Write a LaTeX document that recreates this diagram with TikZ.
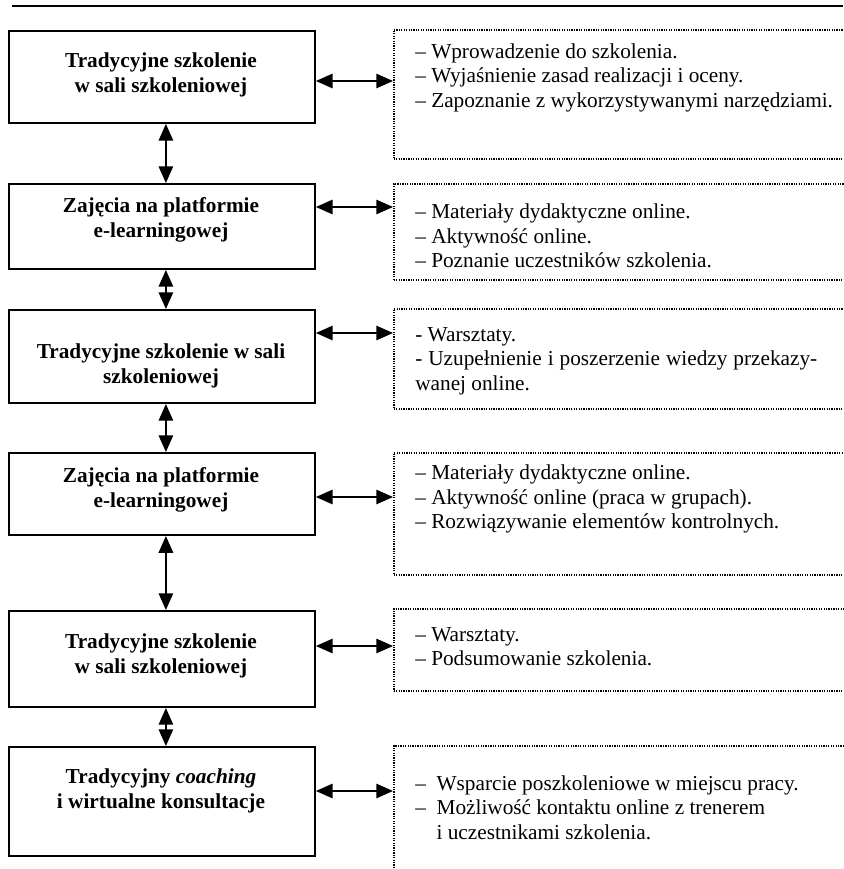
\documentclass[tikz,border=0pt]{standalone}
\usepackage{fontspec}
\setmainfont{Liberation Serif}
\usepackage{tikz}
\usetikzlibrary{arrows.meta}
\usetikzlibrary{positioning}

\begin{document}
\begin{tikzpicture}[x=0.658pt, y=-0.658pt]
\tikzstyle{box} = [draw, line width=1.3pt, minimum width=201.3pt, anchor=north west, inner sep=0pt]
\tikzstyle{note} = [draw, line width=1pt, dash pattern=on 0.8pt off 0.8pt, minimum width=314pt, anchor=north west, inner sep=0pt]
\tikzstyle{boxtext} = [font=\fontsize{14}{16.5}\selectfont\bfseries, align=center, inner sep=0pt]
\tikzstyle{notetext} = [font=\fontsize{14}{16.1}\selectfont, align=left, anchor=west, inner sep=0pt]
\tikzstyle{arr} = [line width=1pt, {Triangle[length=11pt,width=9.5pt]}-{Triangle[length=11pt,width=9.5pt]}]

\useasboundingbox (0,0) rectangle (843,869);
\fill[white] (0,0) rectangle (843,869);
\draw[line width=0.7pt] (12,6) -- (843,6);

% left column
\node[box, minimum height=60.5pt] (b1) at (8,30) {};
\node[box, minimum height=55.9pt] (b2) at (8,183) {};
\node[box, minimum height=61.2pt] (b3) at (8,309) {};
\node[box, minimum height=54.0pt] (b4) at (8,452) {};
\node[box, minimum height=63.2pt] (b5) at (8,610) {};
\node[box, minimum height=71.7pt] (b6) at (8,746) {};

\node[boxtext] (bt1) at (161,74.5) {Tradycyjne szkolenie\\ w sali szkoleniowej};
\node[boxtext] (bt2) at (161,220) {Zajęcia na platformie\\ e-learningowej};
\node[boxtext] (bt3) at (161,366) {Tradycyjne szkolenie w sali\\ szkoleniowej};
\node[boxtext] (bt4) at (161,490) {Zajęcia na platformie\\ e-learningowej};
\node[boxtext] (bt5) at (161,656) {Tradycyjne szkolenie\\ w sali szkoleniowej};
\node[boxtext] (bt6) at (161,791) {Tradycyjny \textit{coaching}\\ i wirtualne konsultacje};

% right column
\node[note, minimum height=84.9pt] (d1) at (393,29) {};
\node[note, minimum height=63.2pt] (d2) at (393,183) {};
\node[note, minimum height=65.8pt] (d3) at (393,308) {};
\node[note, minimum height=80.3pt] (d4) at (393,452) {};
\node[note, minimum height=54.0pt] (d5) at (393,608) {};
\node[note, minimum height=98.7pt] (d6) at (393,745) {};

\node[notetext] (t1) at (415,77.5) {– Wprowadzenie do szkolenia.\\ – Wyjaśnienie zasad realizacji i oceny.\\ – Zapoznanie z wykorzystywanymi narzędziami.};
\node[notetext] (t2) at (415,236) {– Materiały dydaktyczne online.\\ – Aktywność online.\\ – Poznanie uczestników szkolenia.};
\node[notetext, text width=264.5pt, align=justify] (t3) at (415,361) {- Warsztaty.\\ - Uzupełnienie i poszerzenie wiedzy przekazy-\linebreak wanej online.};
\node[notetext] (t4) at (415,499) {– Materiały dydaktyczne online.\\ – Aktywność online (praca w grupach).\\ – Rozwiązywanie elementów kontrolnych.};
\node[notetext] (t5) at (415,646.5) {– Warsztaty.\\ – Podsumowanie szkolenia.};
\node[notetext] (t6) at (415,807.5) {–\hspace{0.5em}Wsparcie poszkoleniowe w miejscu pracy.\\ –\hspace{0.5em}Możliwość kontaktu online z trenerem\\ \phantom{–}\hspace{0.5em}i uczestnikami szkolenia.};

\foreach \a/\b in {b1/b2, b2/b3, b3/b4, b4/b5, b5/b6}
\draw[arr] ([xshift=2.6pt]\a.south) -- ([xshift=2.6pt]\b.north);

\foreach \i/\y in {1/81, 2/207, 3/333, 4/497, 5/646, 6/791}
\draw[arr] (b\i.east |- 0,\y) -- (d\i.west |- 0,\y);
\end{tikzpicture}
\end{document}
